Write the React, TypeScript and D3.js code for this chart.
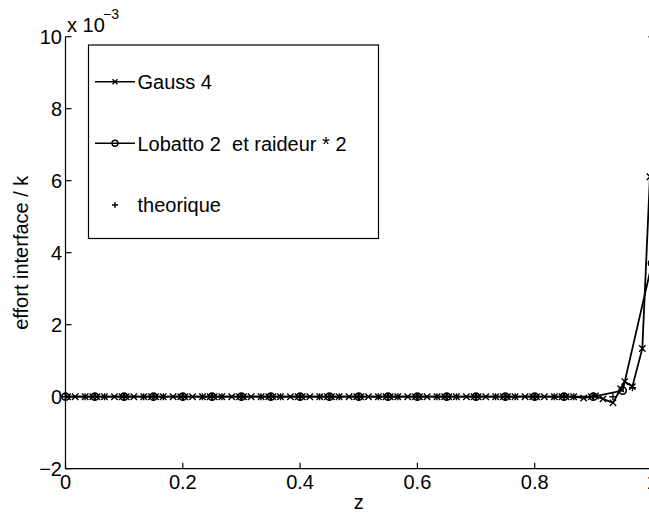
import React from "react";
import * as d3 from "d3";

// ---- data (y values in units of 1e-3) ----
const gaussZ = [
  0.0035, 0.0165, 0.0335, 0.0465, 0.0535, 0.0665, 0.0835, 0.0965,
  0.1035, 0.1165, 0.1335, 0.1465, 0.1535, 0.1665, 0.1835, 0.1965,
  0.2035, 0.2165, 0.2335, 0.2465, 0.2535, 0.2665, 0.2835, 0.2965,
  0.3035, 0.3165, 0.3335, 0.3465, 0.3535, 0.3665, 0.3835, 0.3965,
  0.4035, 0.4165, 0.4335, 0.4465, 0.4535, 0.4665, 0.4835, 0.4965,
  0.5035, 0.5165, 0.5335, 0.5465, 0.5535, 0.5665, 0.5835, 0.5965,
  0.6035, 0.6165, 0.6335, 0.6465, 0.6535, 0.6665, 0.6835, 0.6965,
  0.7035, 0.7165, 0.7335, 0.7465, 0.7535, 0.7665, 0.7835, 0.7965,
  0.8035, 0.8165, 0.8335, 0.8465, 0.8535, 0.8665, 0.8835, 0.8965,
  0.9035, 0.9165, 0.9335, 0.9465, 0.9535, 0.9665, 0.9835, 0.9965,
];
const gaussY = [
  0, 0, 0, 0, 0, 0, 0, 0,
  0, 0, 0, 0, 0, 0, 0, 0,
  0, 0, 0, 0, 0, 0, 0, 0,
  0, 0, 0, 0, 0, 0, 0, 0,
  0, 0, 0, 0, 0, 0, 0, 0,
  0, 0, 0, 0, 0, 0, 0, 0,
  0, 0, 0, 0, 0, 0, 0, 0,
  0, 0, 0, 0, 0, 0, 0, 0,
  0, 0, 0, 0, 0, 0, -0.04, 0,
  0.02, -0.06, -0.17, 0.22, 0.42, 0.28, 1.34, 6.11,
];
const lobattoZ = [
  0, 0.05, 0.1, 0.15, 0.2, 0.25, 0.3, 0.35, 0.4, 0.45, 0.5,
  0.55, 0.6, 0.65, 0.7, 0.75, 0.8, 0.85, 0.9, 0.95, 1.0,
];
const lobattoY = [
  0, 0, 0, 0, 0, 0, 0, 0, 0, 0, 0,
  0, 0, 0, 0, 0, 0, 0, 0, 0.17, 3.71,
];
const theoZ = [
  0, 0.0333, 0.0667, 0.1, 0.1333, 0.1667, 0.2, 0.2333, 0.2667, 0.3,
  0.3333, 0.3667, 0.4, 0.4333, 0.4667, 0.5, 0.5333, 0.5667, 0.6, 0.6333,
  0.6667, 0.7, 0.7333, 0.7667, 0.8, 0.8333, 0.8667, 0.9, 0.9333, 0.9667, 1.0,
];
const theoY = [
  0, 0, 0, 0, 0, 0, 0, 0, 0, 0,
  0, 0, 0, 0, 0, 0, 0, 0, 0, 0,
  0, 0, 0, 0, 0, 0, 0, 0, 0, 0.25, 10.0,
];
const xTicks = [0, 0.2, 0.4, 0.6, 0.8, 1];
const xTickLabels = ["0", "0.2", "0.4", "0.6", "0.8", "1"];
const yTicks = [-2, 0, 2, 4, 6, 8, 10];
const yTickLabels = ["\u22122", "0", "2", "4", "6", "8", "10"];
const legendLabels = ["Gauss 4", "Lobatto 2  et raideur * 2", "theorique"];

const W = 649;
const H = 514;
const FONT = "'Liberation Sans', Arial, Helvetica, sans-serif";

const xMark = (x: number, y: number, s: number) =>
  `M${x - s},${y - s}L${x + s},${y + s}M${x - s},${y + s}L${x + s},${y - s}`;
const plusMark = (x: number, y: number, s: number) =>
  `M${x - s},${y}L${x + s},${y}M${x},${y - s}L${x},${y + s}`;

export default function App() {
  const left = 65.5;
  const right = 652;
  const top = 36.7;
  const bottom = 468.7;
  const x = d3.scaleLinear().domain([0, 1]).range([left, right]);
  const y = d3.scaleLinear().domain([-2, 10]).range([bottom, top]);

  const gauss = gaussZ.map((z, i) => [z, gaussY[i]] as [number, number]);
  const lob = lobattoZ.map((z, i) => [z, lobattoY[i]] as [number, number]);
  const theo = theoZ.map((z, i) => [z, theoY[i]] as [number, number]);

  const line = d3
    .line<[number, number]>()
    .x((d) => x(d[0]))
    .y((d) => y(d[1]));

  const tickLen = 6;
  const fs = 20;

  // legend layout
  const lgX = 88.5, lgY = 45, lgW = 290, lgH = 193.5;
  const rowY = [81.7, 143.3, 205];

  return (
    <svg
      width={W}
      height={H}
      style={{ position: "absolute", left: 0, top: 0, background: "#fff" }}
      fontFamily={FONT}
    >
      <rect x={0} y={0} width={W} height={H} fill="#fff" />
      <defs>
        <clipPath id="plotclip">
          <rect x={left - 6} y={top - 6} width={right - left + 12} height={bottom - top + 12} />
        </clipPath>
      </defs>

      {/* axes */}
      <line x1={left} y1={top} x2={left} y2={bottom} stroke="#000" strokeWidth={1.2} />
      <line x1={left} y1={bottom} x2={right} y2={bottom} stroke="#000" strokeWidth={1.2} />
      {yTicks.map((t, i) => (
        <g key={"yt" + i}>
          <line x1={left} x2={left + tickLen} y1={y(t)} y2={y(t)} stroke="#000" strokeWidth={1.2} />
          <text x={left - 3.5} y={y(t)} dy="0.36em" fontSize={fs} textAnchor="end">
            {yTickLabels[i]}
          </text>
        </g>
      ))}
      {xTicks.map((t, i) => (
        <g key={"xt" + i}>
          <line x1={x(t)} x2={x(t)} y1={bottom} y2={bottom - tickLen} stroke="#000" strokeWidth={1.2} />
          <text x={x(t)} y={489} fontSize={fs} textAnchor="middle">
            {xTickLabels[i]}
          </text>
        </g>
      ))}
      <text x={(left + right) / 2} y={509} fontSize={fs} textAnchor="middle">z</text>
      <text
        transform={`translate(${28},${(top + bottom) / 2}) rotate(-90)`}
        fontSize={fs}
        textAnchor="middle"
      >
        effort interface / k
      </text>
      <text x={67} y={32} fontSize={fs}>x 10</text>
      <text x={103} y={19} fontSize={14}>{"\u22123"}</text>

      {/* data */}
      <g clipPath="url(#plotclip)" fill="none" stroke="#000">
        <path d={line(gauss) || ""} strokeWidth={1.8} />
        <path d={line(lob) || ""} strokeWidth={1.8} />
        {gauss.map((d, i) => (
          <path key={"gm" + i} d={xMark(x(d[0]), y(d[1]), 3.2)} strokeWidth={1.4} />
        ))}
        {lob.map((d, i) => (
          <circle key={"lm" + i} cx={x(d[0])} cy={y(d[1])} r={3.6} strokeWidth={1.6} />
        ))}
        {theo.map((d, i) => (
          <path key={"tm" + i} d={plusMark(x(d[0]), y(d[1]), 3.5)} strokeWidth={1.4} />
        ))}
      </g>

      {/* legend */}
      <rect x={lgX} y={lgY} width={lgW} height={lgH} fill="#fff" stroke="#000" strokeWidth={1.2} />
      <g fill="none" stroke="#000">
        <line x1={95} x2={135} y1={rowY[0]} y2={rowY[0]} strokeWidth={1.6} />
        <path d={xMark(115, rowY[0], 2.5)} strokeWidth={1.3} />
        <line x1={95} x2={135} y1={rowY[1]} y2={rowY[1]} strokeWidth={1.6} />
        <circle cx={115} cy={rowY[1]} r={3} strokeWidth={1.4} />
        <path d={plusMark(115, rowY[2], 3)} strokeWidth={1.3} />
      </g>
      {legendLabels.map((l, i) => (
        <text key={"lg" + i} x={137.5} y={rowY[i]} dy="0.36em" fontSize={fs} xmlSpace="preserve">
          {l}
        </text>
      ))}
    </svg>
  );
}
